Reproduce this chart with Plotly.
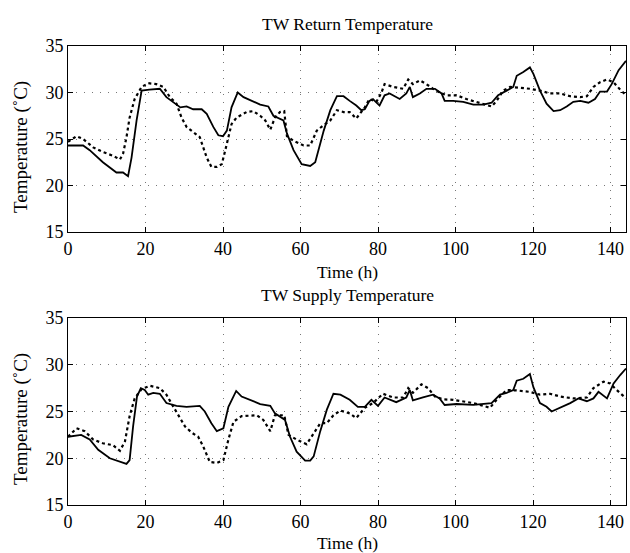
import plotly.graph_objects as go

# ---- data ----
ret_solid_t = [0, 3.9, 5.6, 9, 12.5, 14.2, 15.5, 16.4, 17.7, 19, 21, 23.7, 25.4, 27, 29, 30.6, 32.3, 34.5, 35.8, 37.5,
               38.8, 40, 41, 42.2, 43.8, 45.3, 47.8, 49.6, 51.7, 53, 55.6, 56.5, 58.2, 60.3, 62.5, 63.8, 66, 67.7,
               69.4, 71.1, 72.7, 74.4, 75.7, 76.6, 77.8, 78.7, 80.4, 81.7, 83, 85.6, 87.3, 88.2, 89, 90.8, 92.5,
               94.7, 96.4, 97.2, 99.4, 102, 104.6, 107.2, 109.3, 111, 113.2, 114.9, 115.8, 117.5, 119.2, 120.1,
               121.8, 123.5, 125.3, 127, 128.7, 130.4, 132.2, 134.3, 136, 137.3, 139.1, 140.3, 142.1, 144]
ret_solid_v = [24.3, 24.3, 23.8, 22.5, 21.4, 21.4, 21.0, 23.0, 27.0, 30.2, 30.3, 30.4, 29.5, 29.0, 28.4, 28.5, 28.2, 28.2,
               27.7, 26.3, 25.4, 25.3, 25.9, 28.4, 30.0, 29.5, 29.0, 28.7, 28.5, 27.5, 27.0, 25.6, 23.8, 22.3, 22.1,
               22.5, 25.9, 28.1, 29.6, 29.6, 29.1, 28.6, 28.1, 28.2, 29.1, 29.3, 28.6, 29.7, 29.9, 29.3, 29.9, 30.6,
               29.5, 29.9, 30.4, 30.4, 29.9, 29.1, 29.1, 29.0, 28.7, 28.7, 28.9, 29.7, 30.2, 30.6, 31.8, 32.2, 32.7,
               32.0, 30.2, 28.8, 28.0, 28.1, 28.5, 29.0, 29.1, 28.9, 29.3, 30.1, 30.1, 30.9, 32.4, 33.4]

ret_dash_t = [0, 2.2, 3.9, 6.5, 9, 11.6, 13.4, 14.2, 15.1, 15.9, 17.2, 19, 20.7, 22.8, 24.6, 26.3, 28, 29.3, 30.6, 32.3,
              34, 35.8, 37, 38.4, 39.7, 41, 42.2, 43.5, 46.1, 47.8, 49.6, 50.9, 52.2, 53.4, 54.7, 55.8, 56.5, 58.2,
              60.8, 62.5, 64.2, 66, 67.7, 69.4, 71.1, 72.7, 74.4, 75.3, 76.6, 77.8, 79.6, 80.9, 81.7, 83.9, 86.5,
              87.8, 89, 90.8, 92.5, 94.2, 95.9, 97.7, 100.3, 102.8, 105.4, 108, 109.3, 110.6, 112.3, 114.1, 116.6,
              119.2, 121.8, 124.4, 127, 129.6, 132.2, 133.9, 135.6, 137.3, 139.1, 140.8, 142.3, 144]
ret_dash_v = [24.7, 25.3, 25.0, 24.1, 23.6, 23.2, 22.8, 23.4, 25.2, 27.3, 29.3, 30.6, 31.0, 30.9, 30.6, 29.5, 28.8, 27.3,
              26.3, 25.7, 25.2, 23.0, 22.0, 22.0, 22.3, 24.5, 26.6, 27.3, 27.9, 28.0, 27.5, 27.0, 26.0, 27.3, 27.9,
              28.0, 25.3, 24.8, 24.3, 24.3, 25.9, 26.5, 27.0, 28.1, 27.9, 27.9, 27.2, 27.7, 28.4, 29.3, 29.0, 30.0,
              30.9, 30.6, 30.4, 31.4, 30.9, 31.3, 30.9, 30.4, 30.0, 29.7, 29.7, 29.3, 29.0, 28.7, 28.5, 29.1, 30.2,
              30.6, 30.5, 30.4, 30.2, 29.9, 29.9, 29.6, 29.5, 29.6, 30.6, 31.1, 31.4, 31.1, 30.4, 29.7]

sup_solid_t = [0, 3.4, 5.6, 7.8, 10.8, 13.4, 15.1, 15.9, 16.8, 17.8, 18.8, 19.8, 20.7, 22, 23.7, 25.4, 28, 30.6, 34,
               35.3, 37, 38.4, 40.1, 41.4, 43.4, 44.8, 47, 49.6, 52.2, 53.4, 56, 57.3, 59, 61.2, 62.5, 63.4, 65.1,
               66.8, 68.5, 70.3, 72.7, 74.8, 76.6, 78.3, 80, 81.7, 84.7, 87.3, 88.2, 89, 91.6, 94.2, 95.9, 97.2,
               100.3, 104.6, 109.3, 111.5, 113.2, 114.9, 115.8, 117.5, 119.2, 120.1, 121.8, 123.5, 124.8, 127,
               129.6, 131.7, 133.9, 135.6, 136.9, 139.1, 140.8, 142.5, 144]
sup_solid_v = [22.3, 22.5, 22.0, 20.9, 20.0, 19.6, 19.4, 19.8, 23.4, 26.6, 27.5, 27.3, 26.8, 27.0, 26.9, 25.9, 25.6,
               25.5, 25.6, 25.0, 23.75, 22.9, 23.2, 25.5, 27.2, 26.6, 26.2, 25.8, 25.6, 24.8, 24.1, 22.3, 20.7,
               19.75, 19.75, 20.2, 22.9, 25.2, 26.9, 26.8, 26.25, 25.5, 25.5, 26.25, 25.6, 26.5, 26.0, 26.5, 27.3,
               26.2, 26.5, 26.8, 26.4, 25.7, 25.8, 25.7, 25.9, 26.8, 27.0, 27.3, 28.3, 28.5, 29.0, 27.6, 25.9,
               25.5, 25.0, 25.4, 25.9, 26.4, 26.1, 26.4, 27.1, 26.4, 28.0, 28.9, 29.6]

sup_dash_t = [0, 2.2, 4.3, 6.5, 9, 11.6, 13.4, 14.7, 15.9, 17.2, 19, 21.1, 23.7, 25.4, 27.2, 28.9, 30.2, 31.9, 33.6,
              34.9, 36.6, 38.4, 40.1, 41.4, 42.7, 44.8, 47, 48.7, 50.4, 52.2, 53.4, 55.8, 56.9, 59, 61.6, 63.4,
              65.1, 66.8, 68.5, 70.3, 72.7, 74.4, 76.6, 78.7, 81.3, 83.9, 86.5, 87.8, 89, 91.2, 92.9, 94.7, 96.8,
              99.4, 102, 104.6, 107.2, 108.9, 110.6, 113.2, 115.8, 119.2, 121.8, 124.4, 127, 130.4, 133.9, 135.6,
              138.2, 139.9, 141.6, 144]
sup_dash_v = [22.3, 23.2, 22.9, 22.0, 21.6, 21.4, 20.8, 21.8, 24.5, 26.4, 27.4, 27.75, 27.5, 26.8, 25.5, 24.3, 23.4,
              22.75, 22.3, 21.25, 19.6, 19.5, 19.8, 22.0, 23.9, 24.5, 24.6, 24.6, 24.1, 22.9, 24.6, 24.6, 22.5,
              22.0, 21.5, 22.7, 23.75, 23.75, 24.6, 25.1, 24.8, 24.3, 25.4, 25.9, 26.9, 26.5, 26.5, 27.5, 27.0,
              27.9, 27.5, 26.6, 26.3, 26.25, 26.1, 25.9, 25.6, 25.4, 26.25, 27.3, 27.25, 27.1, 26.8, 26.9, 26.6,
              26.4, 26.5, 27.5, 28.2, 28.0, 27.3, 26.4]

x_ticks = [0, 20, 40, 60, 80, 100, 120, 140]
y_ticks = [15, 20, 25, 30, 35]
titles = ["TW Return Temperature", "TW Supply Temperature"]
x_label = "Time (h)"
y_label = "Temperature (˚C)"

FONT = "Liberation Serif"
W, H = 630, 553
PL, PR, PT, PB = 68, 626, 46, 505          # pixels of the plot block
ML, MR, MT, MB = PL, W - PR, PT, H - PB
plot_w = PR - PL
plot_h = PB - PT

def fx(sx):
    return (sx - PL) / plot_w

def fy(sy):
    return (PB - sy) / plot_h

fig = go.Figure()
solid = dict(color="black", width=1.8)
dash = dict(color="black", width=2.2, dash="3px,3px")
fig.add_trace(go.Scatter(x=ret_solid_t, y=ret_solid_v, mode="lines", line=solid, xaxis="x", yaxis="y", showlegend=False))
fig.add_trace(go.Scatter(x=ret_dash_t, y=ret_dash_v, mode="lines", line=dash, xaxis="x", yaxis="y", showlegend=False))
fig.add_trace(go.Scatter(x=sup_solid_t, y=sup_solid_v, mode="lines", line=solid, xaxis="x2", yaxis="y2", showlegend=False))
fig.add_trace(go.Scatter(x=sup_dash_t, y=sup_dash_v, mode="lines", line=dash, xaxis="x2", yaxis="y2", showlegend=False))

common = dict(showgrid=True, gridcolor="#777", griddash="1px,7px", gridwidth=1,
              showline=True, linecolor="black", linewidth=1, mirror="ticks", ticks="inside", ticklen=5,
              tickcolor="black", zeroline=False, tickfont=dict(family=FONT, size=18, color="black"))
xa = dict(common, range=[0, 144], tickvals=x_ticks)
ya = dict(common, range=[15, 35], tickvals=y_ticks)

fig.update_layout(
    width=W, height=H, margin=dict(l=ML, r=MR, t=MT, b=MB, autoexpand=False),
    paper_bgcolor="white", plot_bgcolor="white",
    xaxis=dict(xa, domain=[0, 1], anchor="y"),
    yaxis=dict(ya, domain=[fy(232), 1.0], anchor="x"),
    xaxis2=dict(xa, domain=[0, 1], anchor="y2"),
    yaxis2=dict(ya, domain=[0.0, fy(318)], anchor="x2"),
)

ann_font = dict(family=FONT, size=17.5, color="black")
ylab_font = dict(family=FONT, size=19, color="black")
cx = fx(347)
yl = fx(21)
base = dict(xref="paper", yref="paper", showarrow=False, font=ann_font, xanchor="center", yanchor="middle")
anns = [
    dict(base, text=titles[0], x=cx, y=fy(24)),
    dict(base, text=titles[1], x=cx, y=fy(295)),
    dict(base, text=x_label, x=cx, y=fy(272)),
    dict(base, text=x_label, x=cx, y=fy(543)),
    dict(base, text=y_label, x=yl, y=fy(147), textangle=-90, font=ylab_font),
    dict(base, text=y_label, x=yl, y=fy(419), textangle=-90, font=ylab_font),
]
fig.update_layout(annotations=anns)

fig.write_html("out.html", config={"displayModeBar": False},
               post_script="document.body.style.margin='0';document.body.style.overflow='hidden';"
                           "document.documentElement.style.overflow='hidden';")
